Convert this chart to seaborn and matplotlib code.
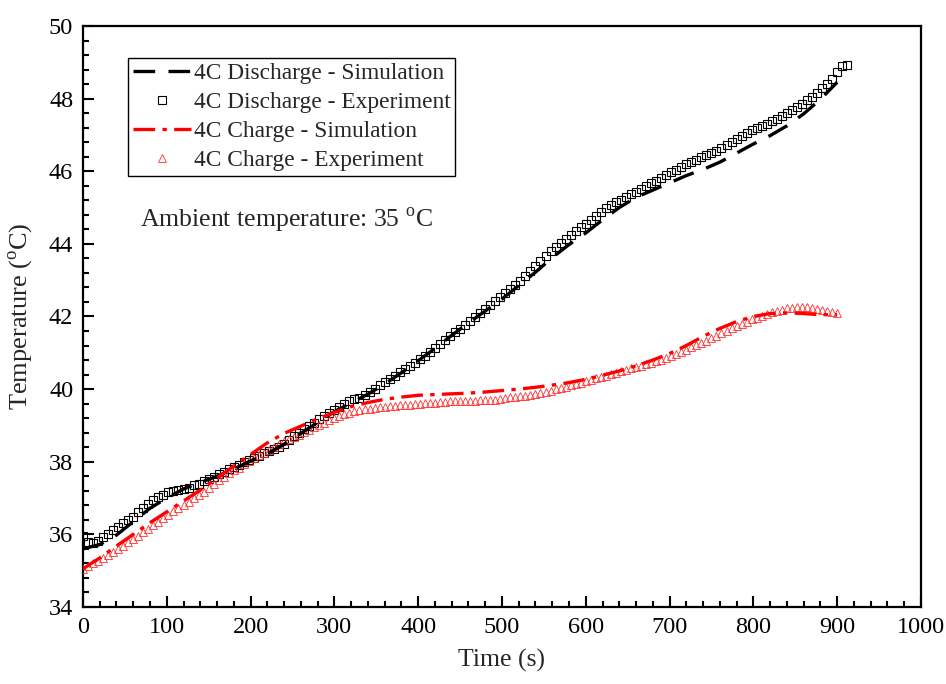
import numpy as np
import pandas as pd
import matplotlib
matplotlib.use("Agg")
import matplotlib.pyplot as plt
import seaborn as sns
from matplotlib.ticker import MultipleLocator

sns.set_style("white")
plt.rcParams["font.family"] = ["Liberation Serif", "DejaVu Serif"]
plt.rcParams["mathtext.fontset"] = "custom"
plt.rcParams["mathtext.rm"] = "Liberation Serif"

# ---- data -------------------------------------------------------------
# Experimental records (one sample every 6 s)
exp_step = 6
discharge_exp = [
    35.95, 35.80, 35.75, 35.83, 35.92, 36.02, 36.12,
    36.21, 36.30, 36.40, 36.49,
    36.61, 36.72, 36.84, 36.95,
    37.02, 37.09, 37.16,
    37.20, 37.22, 37.25, 37.29,
    37.35, 37.40, 37.46, 37.52, 37.59, 37.66, 37.73,
    37.80, 37.86, 37.92, 37.98, 38.04, 38.10, 38.16, 38.23, 38.29, 38.35, 38.41,
    38.50, 38.60, 38.70, 38.79, 38.89, 38.98, 39.08, 39.17,
    39.27, 39.35, 39.43, 39.51, 39.59,
    39.66, 39.72, 39.76, 39.83, 39.92, 40.01,
    40.10, 40.19, 40.28, 40.37, 40.46, 40.55, 40.64, 40.73, 40.82, 40.92,
    41.03, 41.13, 41.24, 41.35, 41.45, 41.56, 41.66, 41.77, 41.88, 41.98,
    42.09, 42.20, 42.31, 42.42, 42.53, 42.64, 42.76, 42.87,
    42.99, 43.12, 43.26, 43.40, 43.54,
    43.67, 43.79, 43.90, 44.02, 44.13, 44.25,
    44.36, 44.46, 44.56, 44.67, 44.77, 44.87, 44.98,
    45.06, 45.14, 45.21, 45.29, 45.36, 45.44, 45.51,
    45.59, 45.67, 45.74, 45.82, 45.89, 45.97, 46.04, 46.12,
    46.19, 46.26, 46.32, 46.38, 46.44, 46.50, 46.57, 46.65,
    46.73, 46.81, 46.90, 46.98, 47.06,
    47.13, 47.19, 47.25, 47.31, 47.37,
    47.45, 47.53, 47.61, 47.69,
    47.77, 47.86, 47.96, 48.05,
    48.16, 48.28, 48.40,
    48.55, 48.73, 48.90, 48.92,
]
charge_exp = [
    35.05, 35.12, 35.20, 35.28, 35.36, 35.44, 35.52, 35.60,
    35.68, 35.78, 35.87, 35.96, 36.06,
    36.15, 36.25, 36.34, 36.44, 36.53, 36.63,
    36.72, 36.81, 36.90, 36.99, 37.08,
    37.17, 37.28, 37.38, 37.49, 37.59,
    37.68, 37.76, 37.84, 37.93, 38.01, 38.09, 38.18,
    38.25, 38.33, 38.41, 38.49, 38.56, 38.62,
    38.67, 38.74, 38.81, 38.88, 38.95, 39.02,
    39.08, 39.14, 39.20, 39.26, 39.31, 39.35, 39.39, 39.42,
    39.44, 39.46, 39.48, 39.50, 39.52, 39.53, 39.54, 39.55, 39.56,
    39.57, 39.58, 39.60, 39.61, 39.62, 39.63, 39.64, 39.65, 39.66,
    39.66, 39.67, 39.67, 39.68, 39.68, 39.69, 39.69, 39.70,
    39.71, 39.73, 39.75, 39.77, 39.78, 39.80, 39.82, 39.84,
    39.86, 39.89, 39.93, 39.96, 40.00, 40.03, 40.07,
    40.11, 40.14, 40.18, 40.22, 40.26, 40.30, 40.33, 40.37, 40.41,
    40.45, 40.49, 40.53, 40.57, 40.61, 40.65, 40.69, 40.73, 40.77, 40.81,
    40.86, 40.91, 40.97, 41.03, 41.09, 41.15, 41.21, 41.27,
    41.33, 41.40, 41.47, 41.54, 41.61, 41.68, 41.75,
    41.80, 41.86, 41.92, 41.96, 42.01,
    42.06, 42.11, 42.15, 42.19, 42.22,
    42.24, 42.26, 42.26, 42.25, 42.23, 42.21, 42.18, 42.15, 42.12, 42.10,
]

# Simulation results (one value every 20 s)
sim_step = 20
discharge_sim = [
    35.60, 35.72, 35.98, 36.35, 36.72, 37.00, 37.25, 37.43, 37.60, 37.80,
    38.02, 38.22, 38.48, 38.78, 39.08, 39.38, 39.62, 39.86, 40.14, 40.45,
    40.78, 41.12, 41.48, 41.82, 42.15, 42.48, 42.85, 43.22, 43.62, 43.98,
    44.30, 44.66, 45.00, 45.28, 45.48, 45.68, 45.88, 46.05, 46.25, 46.50,
    46.75, 46.98, 47.25, 47.58, 47.98, 48.45,
]
charge_sim = [
    35.05, 35.35, 35.68, 36.00, 36.32, 36.62, 36.92, 37.22, 37.55, 37.88,
    38.20, 38.52, 38.78, 38.98, 39.18, 39.36, 39.52, 39.63, 39.72, 39.78,
    39.83, 39.85, 39.87, 39.89, 39.92, 39.96, 40.00, 40.05, 40.11, 40.18,
    40.27, 40.38, 40.50, 40.64, 40.80, 40.98, 41.20, 41.45, 41.67, 41.86,
    42.00, 42.08, 42.10, 42.08, 42.05, 42.05,
]

labels = [
    "4C Discharge - Simulation",
    "4C Discharge - Experiment",
    "4C Charge - Simulation",
    "4C Charge - Experiment",
]
x_ticks = list(range(0, 1001, 100))
y_ticks = list(range(34, 51, 2))

dis_exp_df = pd.DataFrame({"t": np.arange(len(discharge_exp)) * exp_step, "T": discharge_exp})
chg_exp_df = pd.DataFrame({"t": np.arange(len(charge_exp)) * exp_step, "T": charge_exp})
dis_sim_df = pd.DataFrame({"t": np.arange(len(discharge_sim)) * sim_step, "T": discharge_sim})
chg_sim_df = pd.DataFrame({"t": np.arange(len(charge_sim)) * sim_step, "T": charge_sim})

# ---- figure -----------------------------------------------------------
fig = plt.figure(figsize=(9.46, 6.84), dpi=100)
fig.patch.set_facecolor("white")
ax = fig.add_axes([0.0877, 0.1126, 0.8858, 0.8494])

sns.lineplot(data=dis_sim_df, x="t", y="T", ax=ax, color="black", lw=2.4,
             linestyle=(0, (6.5, 4.0)), label=labels[0], zorder=4)
sns.lineplot(data=dis_exp_df, x="t", y="T", ax=ax, color="black", lw=0,
             marker="s", ms=5.3, mfc="none", mec="black", mew=0.8,
             label=labels[1], zorder=3)
sns.lineplot(data=chg_sim_df, x="t", y="T", ax=ax, color="red", lw=2.4,
             linestyle=(0, (6.5, 2.2, 1.3, 2.2)), label=labels[2], zorder=4)
sns.lineplot(data=chg_exp_df, x="t", y="T", ax=ax, color="red", lw=0,
             marker="^", ms=6, mfc="none", mec="#ff3030", mew=0.6,
             label=labels[3], zorder=3)

ax.set_xlim(0, 1000)
ax.set_ylim(34, 50)
ax.set_xticks(x_ticks)
ax.set_yticks(y_ticks)
ax.xaxis.set_minor_locator(MultipleLocator(20))
ax.yaxis.set_minor_locator(MultipleLocator(0.4))
ax.tick_params(which="both", direction="in", top=False, right=False,
               bottom=True, left=True, width=1.5, colors="black",
               labelsize=17.5, pad=7)
ax.tick_params(which="major", length=8)
ax.tick_params(which="minor", length=4.5)
for s in ax.spines.values():
    s.set_linewidth(1.6)
    s.set_color("black")

ax.set_xlabel("Time (s)", fontsize=18.5, labelpad=8)
ax.set_ylabel("Temperature ($^{\\mathrm{o}}$C)", fontsize=19, labelpad=10)

ax.text(0.068, 0.666, "Ambient temperature: 35 $^{\\mathrm{o}}$C",
        transform=ax.transAxes, fontsize=18.5, va="center", ha="left")

leg = ax.legend(loc="upper left", bbox_to_anchor=(0.054, 0.945),
                fontsize=16.8, frameon=True, fancybox=False,
                edgecolor="black", framealpha=1, handlelength=2.5,
                handletextpad=0.1, labelspacing=0.33, borderpad=0.2,
                borderaxespad=0)
leg.get_frame().set_linewidth(1.0)

fig.savefig("out.png", dpi=100, facecolor="white")
